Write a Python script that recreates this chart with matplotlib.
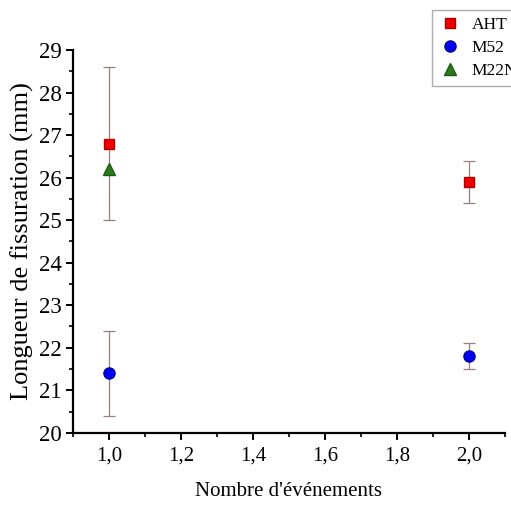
import matplotlib.pyplot as plt
from matplotlib.lines import Line2D
from matplotlib.ticker import MultipleLocator, FuncFormatter

plt.rcParams["font.family"] = ["Liberation Serif", "DejaVu Serif"]

# data
aht_x = [1.0, 2.0]
aht_y = [26.8, 25.9]
aht_err = [1.8, 0.5]
m52_x = [1.0, 2.0]
m52_y = [21.4, 21.8]
m52_err = [1.0, 0.3]
m22n_x = [1.0]
m22n_y = [26.2]

aht_style = dict(marker="s", color="#ee0000", markersize=7, markeredgecolor="#b00000")
m52_style = dict(marker="o", color="#0000ee", markersize=8, markeredgecolor="#0000a0")
m22n_style = dict(marker="^", color="#2d7a1e", markersize=9, markeredgecolor="#1e5a14")

fig = plt.figure(figsize=(5.11, 5.05), dpi=100)
ax = fig.add_axes([0.143, 0.143, 0.845, 0.758])

ebar = dict(ecolor="#9b7f7f", elinewidth=0.9, capsize=4, capthick=0.9, linestyle="none")
ax.errorbar(aht_x, aht_y, yerr=aht_err, **aht_style, **ebar)
ax.errorbar(m52_x, m52_y, yerr=m52_err, **m52_style, **ebar)
ax.plot(m22n_x, m22n_y, linestyle="none", **m22n_style)

ax.set_xlim(0.9, 2.1)
ax.set_ylim(20, 29)
ax.xaxis.set_major_locator(MultipleLocator(0.2))
ax.xaxis.set_minor_locator(MultipleLocator(0.1))
ax.yaxis.set_major_locator(MultipleLocator(1))
ax.yaxis.set_minor_locator(MultipleLocator(0.5))
ax.xaxis.set_major_formatter(FuncFormatter(lambda v, p: f"{v:.1f}".replace(".", ",")))
ax.yaxis.set_major_formatter(FuncFormatter(lambda v, p: f"{v:.0f}"))

for s in ["top", "right"]:
    ax.spines[s].set_visible(False)
for s in ["left", "bottom"]:
    ax.spines[s].set_linewidth(1.6)
ax.tick_params(which="major", direction="out", length=5, width=1.4)
ax.tick_params(which="minor", direction="out", length=3, width=1.2)
ax.tick_params(axis="x", labelsize=15, pad=5)
ax.tick_params(axis="y", labelsize=16.5, pad=3)

ax.set_xlabel("Nombre d'événements", fontsize=15, labelpad=12)
ax.set_ylabel("Longueur de fissuration (mm)", fontsize=19, labelpad=4)

# the legend runs past the right edge of the figure, as in the original
handles = [Line2D([], [], linestyle="none", **aht_style),
           Line2D([], [], linestyle="none", **m52_style),
           Line2D([], [], linestyle="none", **m22n_style)]
fig.legend(handles, ["AHT", "M52", "M22N"], loc="upper left",
           bbox_to_anchor=(0.828, 0.997), fontsize=12.5, frameon=True, fancybox=False,
           edgecolor="#999999", handletextpad=0.6, borderpad=0.4,
           labelspacing=0.4, handlelength=1.3)

fig.savefig("out.png", dpi=100)
